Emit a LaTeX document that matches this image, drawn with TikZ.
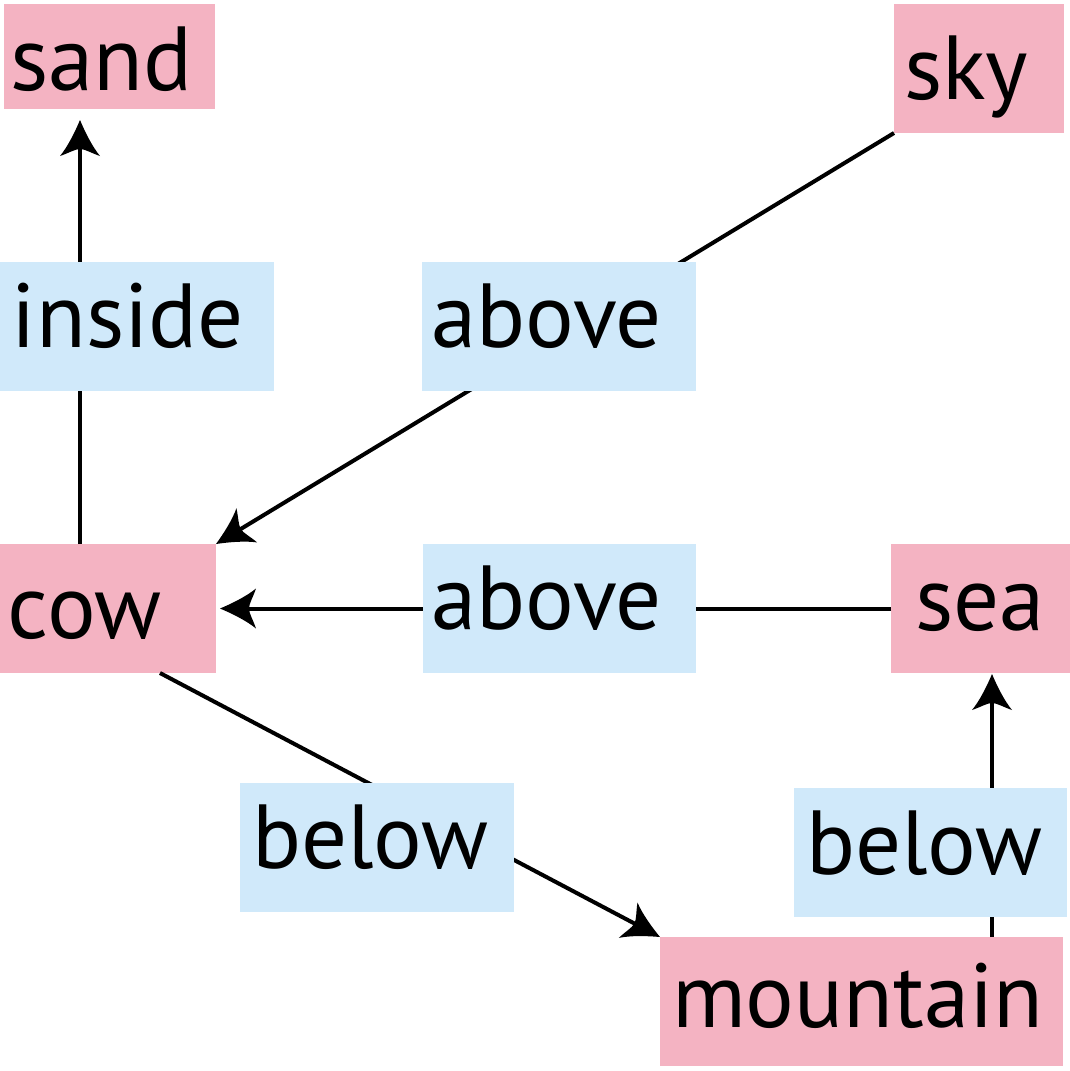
\documentclass[tikz,border=0pt]{standalone}
\usepackage{fontspec}
\setmainfont{PT Sans}
\usetikzlibrary{arrows.meta,calc}
\definecolor{pinkc}{HTML}{F4B3C2}
\definecolor{bluec}{HTML}{D0E9FA}
\pgfdeclarearrow{
  name = Curvy,
  setup code = {
    \pgfarrowssettipend{0pt}
    \pgfarrowssetbackend{-36pt}
    \pgfarrowssetlineend{-20pt}
    \pgfarrowshullpoint{0pt}{0pt}
    \pgfarrowshullpoint{-36pt}{20pt}
    \pgfarrowshullpoint{-36pt}{-20pt}
  },
  drawing code = {
    \pgfpathmoveto{\pgfpointorigin}
    \pgfpathcurveto{\pgfpoint{-12pt}{5pt}}{\pgfpoint{-27pt}{12.5pt}}{\pgfpoint{-36pt}{20pt}}
    \pgfpathcurveto{\pgfpoint{-33pt}{11pt}}{\pgfpoint{-29pt}{5pt}}{\pgfpoint{-29pt}{0pt}}
    \pgfpathcurveto{\pgfpoint{-29pt}{-5pt}}{\pgfpoint{-33pt}{-11pt}}{\pgfpoint{-36pt}{-20pt}}
    \pgfpathcurveto{\pgfpoint{-27pt}{-12.5pt}}{\pgfpoint{-12pt}{-5pt}}{\pgfpointorigin}
    \pgfpathclose
    \pgfusepathqfill
  }
}
\begin{document}
\begin{tikzpicture}[x=1pt,y=-1pt,
  bx/.style n args={4}{anchor=north west, outer sep=0pt, inner ysep=0pt,
     inner xsep=#1pt, text width=#2pt, text height=#3pt, text depth=#4pt,
     align=left, font=\fontsize{91}{100}\selectfont},
  ent/.style={fill=pinkc},
  rel/.style={fill=bluec},
  arr/.style={line width=4pt, -Curvy}]
\useasboundingbox (0,0) rectangle (1070,1071);
% entity nodes
\node[ent, bx={6}{199}{86}{19}] (sand) at (4,4) {sand};
\node[ent, bx={10}{150}{95}{34}] (sky) at (894,4) {sky};
\node[ent, bx={8}{200}{94}{35}] (cow) at (0,544) {cow};
\node[ent, bx={24}{131}{86}{43}] (sea) at (891,544) {sea};
\node[ent, bx={12}{379}{90}{39}] (mountain) at (660,937) {mountain};
% connectors
\draw[arr] ([xshift=80pt]cow.north west) -- ([xshift=76pt,yshift=-11pt]sand.south west);
\draw[arr] (sky.south west) -- (cow.north east);
\draw[arr] (sea.west) -- ([xshift=4pt]cow.east);
\draw[arr] ([xshift=160pt]cow.south west) -- (mountain.north west);
\draw[arr] ([xshift=332pt]mountain.north west) -- ([xshift=101pt,yshift=-1pt]sea.south west);
% relation labels
\node[rel, bx={12}{250}{85}{44}] (inside) at (0,262) {inside};
\node[rel, bx={9}{256}{85}{44}] (above1) at (422,262) {above};
\node[rel, bx={8}{257}{85}{44}] (above2) at (423,544) {above};
\node[rel, bx={12}{250}{85}{44}] (below1) at (240,783) {below};
\node[rel, bx={12}{249}{86}{43}] (below2) at (794,788) {below};
\end{tikzpicture}
\end{document}
